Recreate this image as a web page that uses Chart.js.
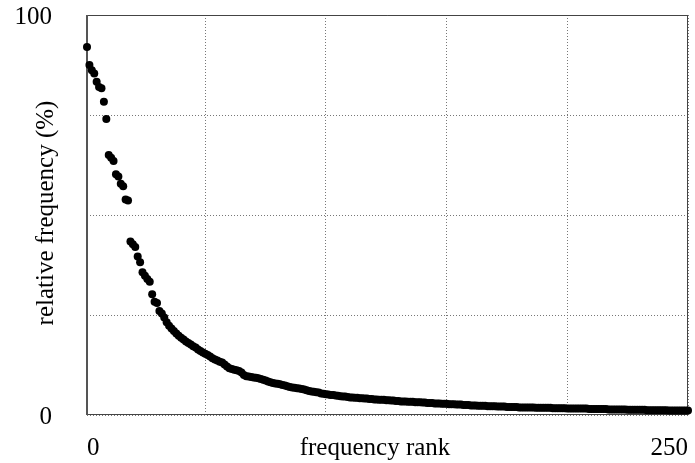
<!DOCTYPE html>
<html>
<head>
<meta charset="utf-8">
<script src="https://cdn.jsdelivr.net/npm/chart.js@4/dist/chart.umd.min.js"></script>
<style>
  html, body { margin: 0; padding: 0; background: #fff; }
  canvas { display: block; }
</style>
</head>
<body>
<canvas id="c" width="695" height="463"></canvas>
<script>
// ---- data ----
const xTitle = "frequency rank";
const yTitle = "relative frequency (%)";
const xTickValues = [1, 50, 100, 150, 200, 250];
const xTickLabels = ["0", "", "", "", "", "250"];
const yTickValues = [0, 25, 50, 75, 100];
const yTickLabels = ["0", "", "", "", "100"];

const relFreq = [
  92, 87.5, 86.2, 85.4, 83.3, 82, 81.7, 78.3, 74, 65,
  64.3, 63.5, 60.2, 59.6, 57.8, 57.2, 53.9, 53.6, 43.4, 42.7,
  42, 39.6, 38.2, 35.7, 34.8, 34, 33.3, 30.2, 28.3, 28,
  26, 25.4, 24.4, 23.2, 22.3, 21.6, 21.0, 20.4, 19.8, 19.3,
  18.9, 18.4, 18.0, 17.6, 17.2, 16.9, 16.4, 16.0, 15.6, 15.3,
  15.0, 14.6, 14.2, 13.9, 13.6, 13.3, 13.1, 12.6, 12.1, 11.7,
  11.5, 11.3, 11.2, 11.0, 10.6, 10.0, 9.7, 9.6, 9.5, 9.4,
  9.3, 9.2, 9.0, 8.8, 8.6, 8.4, 8.2, 8.0, 7.9, 7.8,
  7.7, 7.5, 7.4, 7.2, 7.0, 6.9, 6.8, 6.7, 6.6, 6.5,
  6.4, 6.2, 6.0, 5.9, 5.8, 5.7, 5.6, 5.4, 5.3, 5.2,
  5.1, 5.0, 5.0, 4.9, 4.8, 4.7, 4.6, 4.6, 4.5, 4.4,
  4.4, 4.3, 4.3, 4.2, 4.2, 4.1, 4.1, 4.0, 4.0, 3.9,
  3.9, 3.8, 3.8, 3.8, 3.7, 3.7, 3.6, 3.6, 3.5, 3.5,
  3.4, 3.4, 3.4, 3.3, 3.3, 3.3, 3.2, 3.2, 3.2, 3.1,
  3.1, 3.0, 3.0, 3.0, 2.9, 2.9, 2.9, 2.8, 2.8, 2.8,
  2.7, 2.7, 2.7, 2.6, 2.6, 2.6, 2.5, 2.5, 2.5, 2.4,
  2.4, 2.4, 2.3, 2.3, 2.3, 2.3, 2.2, 2.2, 2.2, 2.2,
  2.1, 2.1, 2.1, 2.1, 2.0, 2.0, 2.0, 2.0, 2.0, 1.9,
  1.9, 1.9, 1.9, 1.9, 1.9, 1.9, 1.8, 1.8, 1.8, 1.8,
  1.8, 1.8, 1.8, 1.7, 1.7, 1.7, 1.7, 1.7, 1.7, 1.65,
  1.6, 1.6, 1.6, 1.6, 1.6, 1.6, 1.6, 1.6, 1.5, 1.5,
  1.5, 1.5, 1.5, 1.5, 1.5, 1.5, 1.4, 1.4, 1.4, 1.4,
  1.4, 1.4, 1.4, 1.4, 1.3, 1.3, 1.3, 1.3, 1.3, 1.3,
  1.3, 1.3, 1.2, 1.2, 1.2, 1.2, 1.2, 1.2, 1.2, 1.2,
  1.2, 1.1, 1.1, 1.1, 1.1, 1.1, 1.1, 1.1, 1.1, 1.1
];
// frequency ranks (category positions) 1..N
const ranks = relFreq.map((_, i) => i + 1);

// ---- rendering ----
const FONT = '"Liberation Serif", "Times New Roman", serif';

const framePlugin = {
  id: 'frame',
  beforeDatasetsDraw(chart) {
    const { ctx, chartArea: a } = chart;
    ctx.save();
    ctx.strokeStyle = '#444';
    ctx.lineWidth = 1;
    ctx.beginPath();
    ctx.moveTo(a.left, a.top + 0.5); ctx.lineTo(a.right, a.top + 0.5);
    ctx.moveTo(a.right - 0.5, a.top); ctx.lineTo(a.right - 0.5, a.bottom);
    ctx.moveTo(a.left, a.bottom - 0.5); ctx.lineTo(a.right, a.bottom - 0.5);
    ctx.stroke();
    ctx.strokeStyle = '#555';
    ctx.lineWidth = 2;
    ctx.beginPath();
    ctx.moveTo(a.left, a.top); ctx.lineTo(a.left, a.bottom);
    ctx.stroke();
    ctx.restore();
  },
  afterDraw(chart) {
    const { ctx } = chart;
    ctx.save();
    ctx.fillStyle = '#000';
    ctx.font = '25px ' + FONT;
    ctx.textAlign = 'center';
    ctx.textBaseline = 'alphabetic';
    ctx.fillText(xTitle, 375, 455);
    ctx.translate(53, 213);
    ctx.rotate(-Math.PI / 2);
    ctx.fillText(yTitle, 0, 0);
    ctx.restore();
  }
};

new Chart(document.getElementById('c'), {
  type: 'scatter',
  data: {
    datasets: [{
      data: ranks.map((r, i) => ({ x: r, y: relFreq[i] })),
      backgroundColor: '#000',
      borderColor: '#000',
      borderWidth: 0,
      pointRadius: 4,
      pointHoverRadius: 4,
      clip: false
    }]
  },
  options: {
    responsive: false,
    animation: false,
    devicePixelRatio: 1,
    layout: { padding: { top: 15, right: 7, left: 0, bottom: 0 } },
    plugins: { legend: { display: false }, tooltip: { enabled: false } },
    scales: {
      x: {
        type: 'linear',
        min: 1,
        max: 250,
        afterBuildTicks: s => { s.ticks = xTickValues.map(v => ({ value: v })); },
        afterFit: s => { s.height = 48; s.paddingLeft = 0; s.paddingRight = 0; s.paddingTop = 0; s.paddingBottom = 0; },
        grid: { color: '#777', lineWidth: 1, drawTicks: false },
        border: { display: false, dash: [1, 2] },
        ticks: {
          autoSkip: false, maxRotation: 0, align: 'inner', padding: 18,
          color: '#000', font: { family: FONT, size: 25 },
          callback: (v, i) => xTickLabels[i]
        }
      },
      y: {
        type: 'linear',
        min: 0,
        max: 100,
        afterBuildTicks: s => { s.ticks = yTickValues.map(v => ({ value: v })); },
        afterFit: s => { s.width = 87; s.paddingLeft = 0; s.paddingRight = 0; s.paddingTop = 0; s.paddingBottom = 0; },
        grid: { color: '#777', lineWidth: 1, drawTicks: false },
        border: { display: false, dash: [1, 2] },
        ticks: {
          autoSkip: false, padding: 35, labelOffset: 2,
          color: '#000', font: { family: FONT, size: 25 },
          callback: (v, i) => yTickLabels[i]
        }
      }
    }
  },
  plugins: [framePlugin]
});
</script>
</body>
</html>
